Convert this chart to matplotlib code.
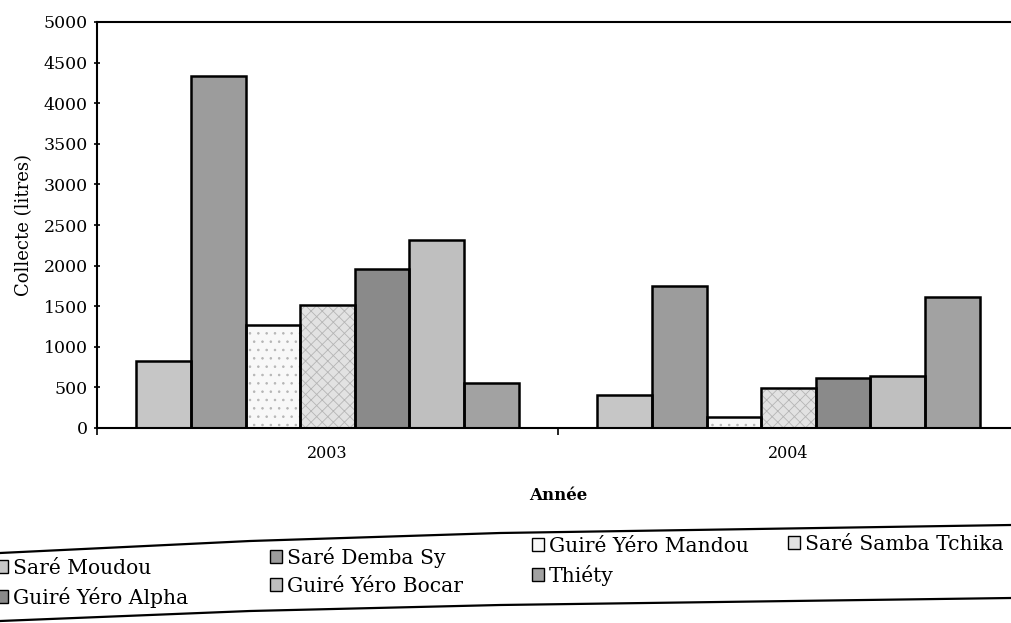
import matplotlib
matplotlib.use("Agg")
import matplotlib.pyplot as plt
from matplotlib.patches import Patch
from matplotlib.lines import Line2D
import numpy as np

years = ["2003", "2004"]
villages = ["Saré Moudou", "Saré Demba Sy", "Guiré Yéro Mandou", "Saré Samba Tchika",
            "Guiré Yéro Alpha", "Guiré Yéro Bocar", "Thiéty"]
collecte_2003 = [830, 4340, 1270, 1510, 1960, 2320, 560]
collecte_2004 = [410, 1750, 130, 490, 615, 640, 1610]
colors = ["#c6c6c6", "#9c9c9c", "#f8f8f8", "#e2e2e2", "#8a8a8a", "#bfbfbf", "#a2a2a2"]
hatches = [None, None, "..", "xxx", None, None, None]
yticks = [0, 500, 1000, 1500, 2000, 2500, 3000, 3500, 4000, 4500, 5000]

plt.rcParams["font.family"] = ["DejaVu Serif"]
plt.rcParams["hatch.linewidth"] = 0.6

W, H = 1011, 623
fig = plt.figure(figsize=(W / 100, H / 100), dpi=100)
ax = fig.add_axes([97 / W, 1 - 428 / H, 922 / W, 406 / H])

n = len(villages)
group_w = 0.83
bw = group_w / n
x = np.arange(len(years))
data = np.array([collecte_2003, collecte_2004])
for i, v in enumerate(villages):
    pos = x - group_w / 2 + bw * (i + 0.5)
    # fill (with light texture where the original has one)
    ax.bar(pos, data[:, i], width=bw, color=colors[i], edgecolor="#b5b5b5",
           linewidth=0, hatch=hatches[i], zorder=2)
    # black outline
    ax.bar(pos, data[:, i], width=bw, fill=False, edgecolor="black",
           linewidth=1.8, zorder=3)

ax.set_xlim(-0.5, 1.5)
ax.set_ylim(0, 5000)
ax.set_yticks(yticks)
ax.set_yticklabels([str(t) for t in yticks], fontsize=12.5)
ax.set_xticks([-0.5, 0.5, 1.5])
ax.set_xticklabels(["", "", ""])
ax.set_xticks(x, minor=True)
ax.set_xticklabels(years, minor=True, fontsize=11.5)
ax.tick_params(axis="x", which="minor", length=0, pad=12)
ax.tick_params(axis="x", which="major", length=5, width=1.2, direction="out")
ax.tick_params(axis="y", length=5, width=1.2, direction="inout", pad=4)
for s in ["left", "bottom", "top"]:
    ax.spines[s].set_linewidth(1.5)
ax.spines["right"].set_visible(False)

ax.set_ylabel("Collecte (litres)", fontsize=13, labelpad=8)
ax.set_xlabel("Année", fontsize=12, fontweight="bold", labelpad=18)

handles = [Patch(facecolor=colors[i], edgecolor="black", linewidth=1.0,
                 label=villages[i]) for i in range(n)]
# legend laid out in rows like the original: four columns, two rows
columns = [[0, 4], [1, 5], [2, 6], [3]]
col_x = [-4, 270, 532, 788]
col_y = [559, 547, 537, 535]
for cols, cx, cy in zip(columns, col_x, col_y):
    fig.legend([handles[i] for i in cols], [villages[i] for i in cols],
               loc="upper left", bbox_to_anchor=(cx / W, 1 - cy / H),
               frameon=False, fontsize=14.6, handlelength=0.6, handleheight=0.6,
               handletextpad=0.25, borderpad=0, borderaxespad=0, labelspacing=0.44)
top_line_x = [0, 250, 500, 1011]
top_line_y = [553, 541, 533, 525]
bot_line_y = [621, 611, 605, 598]
fig.add_artist(Line2D([v / W for v in top_line_x], [1 - v / H for v in top_line_y],
                      color="black", linewidth=1.6, transform=fig.transFigure))
fig.add_artist(Line2D([v / W for v in top_line_x], [1 - v / H for v in bot_line_y],
                      color="black", linewidth=1.6, transform=fig.transFigure))

fig.savefig("out.png", dpi=100)
